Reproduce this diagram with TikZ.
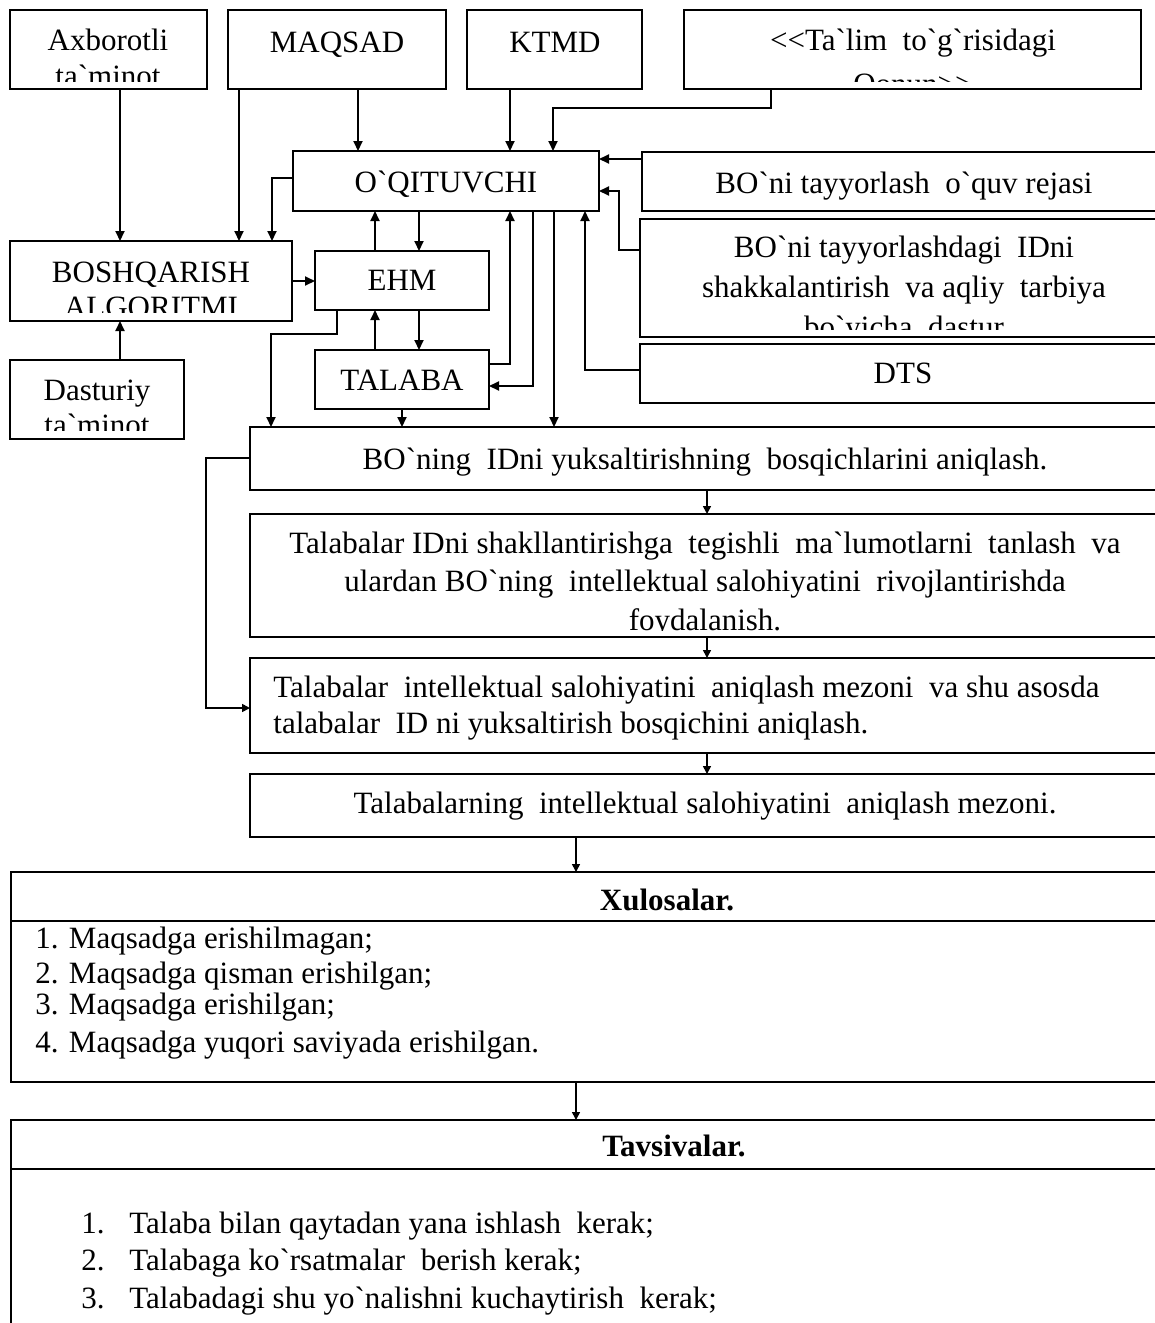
\documentclass[tikz,border=0pt]{standalone}
\usepackage{fontspec}
\setmainfont[Ligatures=TeXOff]{Liberation Serif}
\usetikzlibrary{arrows.meta}
\newcommand\mkbox[5]{\node[box, anchor=north west, minimum width={(#4-#2)*0.5pt}, minimum height={(#5-#3)*0.5pt}] (#1) at (#2,#3) {};}
\begin{document}
\begin{tikzpicture}[x=0.5pt,y=-0.5pt,
  box/.style={draw, line width=1pt, inner sep=0pt, outer sep=0pt},
  txt/.style={inner sep=0pt, anchor=base, font=\rmfamily\fontsize{15.5}{19}\selectfont, align=center},
  ltxt/.style={inner sep=0pt, anchor=base west, font=\rmfamily\fontsize{15.5}{19}\selectfont, align=left},
  arr/.style={-{Triangle[length=5pt,width=4.5pt]}, line width=1pt},
  sarr/.style={-{Triangle[length=4pt,width=4pt]}, line width=0.8pt}]
\clip (0,0) rectangle (1155,1323);
% boxes
\mkbox{axb}{10}{10}{207}{89}
\mkbox{maq}{228}{10}{446}{89}
\mkbox{ktmd}{467}{10}{642}{89}
\mkbox{qon}{684}{10}{1141}{89}
\mkbox{oq}{293}{151}{599}{211}
\mkbox{rej}{642}{152}{1166}{211}
\mkbox{dst}{640}{219}{1166}{337}
\mkbox{dts}{640}{344}{1166}{403}
\mkbox{bosh}{10}{241}{292}{321}
\mkbox{ehm}{315}{251}{489}{310}
\mkbox{tala}{315}{350}{489}{409}
\mkbox{dast}{10}{360}{184}{439}
\mkbox{bon}{250}{427}{1162}{490}
\mkbox{b2}{250}{514}{1162}{637}
\mkbox{b3}{250}{658}{1162}{753}
\mkbox{b4}{250}{774}{1162}{837}
\mkbox{xul}{11}{872}{1170}{1082}
\mkbox{tav}{11}{1120}{1170}{1345}
\draw[line width=1pt] (xul.west |- 0,921) -- (xul.east |- 0,921);
\draw[line width=1pt] (tav.west |- 0,1169) -- (tav.east |- 0,1169);
% texts (multi-line nodes are placed at the baseline of their last line)
\begin{scope}\clip (10,10) rectangle (207,81);
\node[txt, font=\rmfamily\fontsize{15.5}{18}\selectfont] (taxb) at (108,86) {Axborotli\\ta`minot};
\end{scope}
\node[txt] (tmaq) at (337,52) {MAQSAD};
\node[txt] (tktmd) at (555,52) {KTMD};
\begin{scope}\clip (684,10) rectangle (1141,81);
\node[txt, font=\rmfamily\fontsize{15.5}{22}\selectfont] (tqon) at (913,94) {<<Ta`lim\ \ to`g`risidagi\\Qonun>>};
\end{scope}
\node[txt] (toq) at (446,192) {O`QITUVCHI};
\node[txt] (trej) at (904,193) {BO`ni tayyorlash\ \ o`quv rejasi};
\begin{scope}\clip (640,219) rectangle (1166,329);
\node[txt, font=\rmfamily\fontsize{15.5}{20}\selectfont] (tdst) at (904,337) {BO`ni tayyorlashdagi\ \ IDni\\shakkalantirish\ \ va aqliy\ \ tarbiya\\bo`yicha\ \ dastur};
\end{scope}
\node[txt] (tdts) at (903,383) {DTS};
\begin{scope}\clip (10,241) rectangle (292,312);
\node[txt, font=\rmfamily\fontsize{15.5}{17.5}\selectfont] (tbosh) at (151,317) {BOSHQARISH\\ALGORITMI};
\end{scope}
\node[txt] (tehm) at (402,290) {EHM};
\node[txt] (ttala) at (402,390) {TALABA};
\begin{scope}\clip (10,360) rectangle (184,430);
\node[txt, font=\rmfamily\fontsize{15.5}{17.5}\selectfont] (tdast) at (97,435) {Dasturiy\\ta`minot};
\end{scope}
\node[txt] (tbon) at (705,469) {BO`ning\ \ IDni yuksaltirishning\ \ bosqichlarini aniqlash.};
\begin{scope}\clip (250,514) rectangle (1162,630);
\node[txt, font=\rmfamily\fontsize{15.5}{19.25}\selectfont] (tb2) at (705,630) {Talabalar IDni shakllantirishga\ \ tegishli\ \ ma`lumotlarni\ \ tanlash\ \ va\\ulardan BO`ning\ \ intellektual salohiyatini\ \ rivojlantirishda\\foydalanish.};
\end{scope}
\node[ltxt, font=\rmfamily\fontsize{15.5}{18}\selectfont] (tb3) at (273,733) {Talabalar\ \ intellektual salohiyatini\ \ aniqlash mezoni\ \ va shu asosda\\talabalar\ \ ID ni yuksaltirish bosqichini aniqlash.};
\node[txt] (tb4) at (705,813) {Talabalarning\ \ intellektual salohiyatini\ \ aniqlash mezoni.};
\node[txt] (txul) at (667,910) {\textbf{Xulosalar.}};
\node[ltxt] (x1) at (35,948) {1. Maqsadga erishilmagan;};
\node[ltxt] (x2) at (35,983) {2. Maqsadga qisman erishilgan;};
\node[ltxt] (x3) at (35,1014) {3. Maqsadga erishilgan;};
\node[ltxt] (x4) at (35,1052) {4. Maqsadga yuqori saviyada erishilgan.};
\node[txt] (ttav) at (674,1156) {\textbf{Tavsivalar.}};
\node[ltxt] (n1) at (81,1233) {1.};
\node[ltxt] (t1) at (129,1233) {Talaba bilan qaytadan yana ishlash\ \ kerak;};
\node[ltxt] (n2) at (81,1270) {2.};
\node[ltxt] (t2) at (129,1270) {Talabaga ko`rsatmalar\ \ berish kerak;};
\node[ltxt] (n3) at (81,1308) {3.};
\node[ltxt] (t3) at (129,1308) {Talabadagi shu yo`nalishni kuchaytirish\ \ kerak;};
% connectors
\draw[arr] (120,0 |- axb.south) -- (120,0 |- bosh.north);
\draw[arr] (239,0 |- maq.south) -- (239,0 |- bosh.north);
\draw[arr] (358,0 |- maq.south) -- (358,0 |- oq.north);
\draw[arr] (510,0 |- ktmd.south) -- (510,0 |- oq.north);
\draw[arr] (771,0 |- qon.south) -- (771,108) -| (553,0 |- oq.north);
\draw[arr] (oq.west |- 0,178) -| (272,0 |- bosh.north);
\draw[arr] (bosh.east |- 0,281) -- (ehm.west |- 0,281);
\draw[arr] (375,0 |- ehm.north) -- (375,0 |- oq.south);
\draw[arr] (419,0 |- oq.south) -- (419,0 |- ehm.north);
\draw[arr] (375,0 |- tala.north) -- (375,0 |- ehm.south);
\draw[arr] (419,0 |- ehm.south) -- (419,0 |- tala.north);
\draw[arr] (tala.east |- 0,364) -| (510,0 |- oq.south);
\draw[arr] (533,0 |- oq.south) |- (tala.east |- 0,386);
\draw[arr] (554,0 |- oq.south) -- (554,0 |- bon.north);
\draw[arr] (dts.west |- 0,370) -| (585,0 |- oq.south);
\draw[arr] (rej.west |- 0,159) -- (oq.east |- 0,159);
\draw[arr] (dst.west |- 0,250) -| (619,191) -- (oq.east |- 0,191);
\draw[arr] (337,0 |- ehm.south) -- (337,334) -| (271,0 |- bon.north);
\draw[arr] (402,0 |- tala.south) -- (402,0 |- bon.north);
\draw[arr] (120,0 |- dast.north) -- (120,0 |- bosh.south);
\draw[sarr] (bon.west |- 0,458) -- (206,458) |- (b3.west |- 0,708);
\draw[sarr] (707,0 |- bon.south) -- (707,0 |- b2.north);
\draw[sarr] (707,0 |- b2.south) -- (707,0 |- b3.north);
\draw[sarr] (707,0 |- b3.south) -- (707,0 |- b4.north);
\draw[sarr] (576,0 |- b4.south) -- (576,0 |- xul.north);
\draw[sarr] (576,0 |- xul.south) -- (576,0 |- tav.north);
\end{tikzpicture}
\end{document}
